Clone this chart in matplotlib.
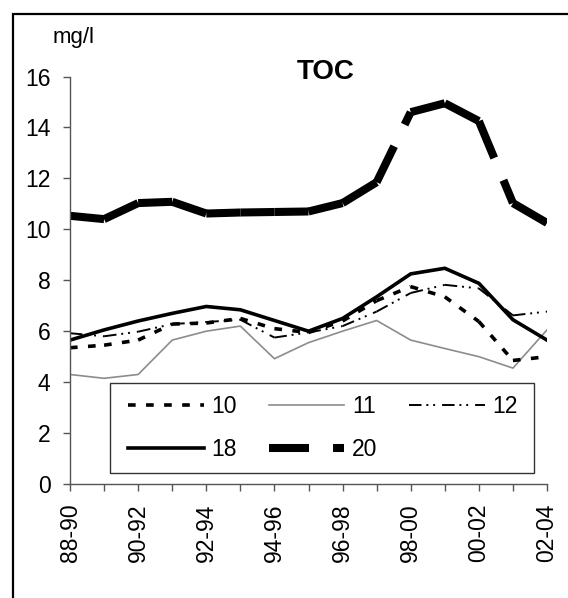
import numpy as np
import matplotlib
matplotlib.use("Agg")
import matplotlib.pyplot as plt
from matplotlib.lines import Line2D
from matplotlib.patches import Rectangle

plt.rcParams['font.family'] = ['Liberation Sans', 'DejaVu Sans']
plt.rcParams['lines.scale_dashes'] = False

periods = ["88-90", "89-91", "90-92", "91-93", "92-94", "93-95", "94-96", "95-97",
           "96-98", "97-99", "98-00", "99-01", "00-02", "01-03", "02-04"]

s10 = [5.35, 5.45, 5.65, 6.28, 6.32, 6.5, 6.1, 5.95, 6.4, 7.2, 7.75, 7.35, 6.38, 4.85, 5.0]
s11 = [4.3, 4.15, 4.3, 5.65, 6.0, 6.2, 4.92, 5.55, 6.0, 6.42, 5.65, 5.32, 5.0, 4.55, 6.05]
s12 = [5.92, 5.8, 5.98, 6.28, 6.36, 6.45, 5.75, 5.95, 6.2, 6.77, 7.5, 7.82, 7.68, 6.62, 6.77]
s18 = [5.65, 6.05, 6.4, 6.7, 6.97, 6.84, 6.42, 6.0, 6.5, 7.35, 8.25, 8.47, 7.88, 6.45, 5.65]
s20 = [10.53, 10.4, 11.03, 11.08, 10.62, 10.66, 10.68, 10.7, 11.03, 11.85, 14.6, 14.95, 14.25, 11.03, 10.25]

labels = ["10", "11", "12", "18", "20"]

fig = plt.figure(figsize=(5.68, 5.98), dpi=100)
ax = fig.add_axes([70/568, 1-484/598, 477/568, 407.5/598])

x = np.arange(len(periods))

# Excel restarts the dash pattern at every vertex, so draw segment by segment
def segs(y, **kw):
    for i in range(len(y) - 1):
        ax.plot(x[i:i+2], y[i:i+2], **kw)

st10 = dict(color='black', lw=2.6, dashes=(5.5, 7.5))
st11 = dict(color='#8c8c8c', lw=1.2)
st12 = dict(color='black', lw=1.4, dashes=(9, 3.5, 1.4, 3.5, 1.4, 5))
st18 = dict(color='black', lw=2.6)
st20 = dict(color='black', lw=5.8, dashes=(28.8, 17.3))

ax.plot(x, s11, **st11)
segs(s12, **st12)
segs(s10, **st10)
ax.plot(x, s18, **st18, solid_joinstyle='miter')
segs(s20, **st20)

ax.set_xlim(0, len(periods) - 1)
ax.set_ylim(0, 16)
ax.set_yticks(np.arange(0, 17, 2))
ax.set_xticks(x)
ax.set_xticklabels([p if i % 2 == 0 else "" for i, p in enumerate(periods)], rotation=90)

for s in ['top', 'right']:
    ax.spines[s].set_visible(False)
for s in ['left', 'bottom']:
    ax.spines[s].set_color('#555555')
    ax.spines[s].set_linewidth(1)
ax.tick_params(axis='both', length=5, width=1, color='#555555', labelsize=16.5)
ax.tick_params(axis='y', pad=9)
ax.tick_params(axis='x', pad=9)

ax.text(0.537, 1.011, "TOC", transform=ax.transAxes, ha='center', va='center',
        fontsize=20, fontweight='bold')
fig.text(74/568, 1-38/598, "mg/l", ha='center', va='center', fontsize=16)

# legend box drawn separately so the padding can match
ax.add_patch(Rectangle((40/477, 11/407.5), 424/477, 90/407.5, transform=ax.transAxes,
                       fc='white', ec='#333333', lw=1, zorder=4.5))

handles = {
    "10": Line2D([], [], **st10),
    "11": Line2D([], [], **st11),
    "12": Line2D([], [], **st12),
    "18": Line2D([], [], **st18),
    "20": Line2D([], [], **st20),
}
order = ["10", "18", "11", "20", "12"]
leg = ax.legend([handles[k] for k in order], order, ncol=3, loc='center',
                bbox_to_anchor=(253/477, 56/407.5), frameon=False,
                fontsize=16.5, handlelength=3.3, handletextpad=0.35, labelspacing=0.9,
                columnspacing=1.375, borderpad=0)
leg.set_zorder(5)

fig.add_artist(Rectangle((13/568, -0.2), 1.2, (1 - 14/598) + 0.2,
                         transform=fig.transFigure, fill=False, lw=1.6, ec='black', clip_on=False))

fig.savefig("out.png", dpi=100)
